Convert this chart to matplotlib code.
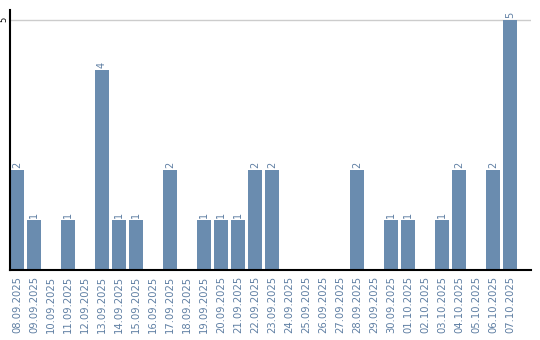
import matplotlib
matplotlib.use("Agg")
import matplotlib.pyplot as plt

dates = ["08.09.2025", "09.09.2025", "10.09.2025", "11.09.2025", "12.09.2025",
         "13.09.2025", "14.09.2025", "15.09.2025", "16.09.2025", "17.09.2025",
         "18.09.2025", "19.09.2025", "20.09.2025", "21.09.2025", "22.09.2025",
         "23.09.2025", "24.09.2025", "25.09.2025", "26.09.2025", "27.09.2025",
         "28.09.2025", "29.09.2025", "30.09.2025", "01.10.2025", "02.10.2025",
         "03.10.2025", "04.10.2025", "05.10.2025", "06.10.2025", "07.10.2025"]
counts = [2, 1, 0, 1, 0, 4, 1, 1, 0, 2, 0, 1, 1, 1, 2, 2, 0, 0, 0, 0,
          2, 0, 1, 1, 0, 1, 2, 0, 2, 5]

bar_col = "#6a8caf"
txt_col = "#5f7fa3"

fig = plt.figure(figsize=(5.4, 3.4), dpi=100)
ax = fig.add_axes([0.0185, 0.206, 0.965, 0.765])

x = list(range(len(dates)))
ax.bar(x, counts, width=0.82, color=bar_col, zorder=2)
for i, v in zip(x, counts):
    if v > 0:
        ax.text(i, v + 0.04, str(v), rotation=90, ha="center", va="bottom",
                fontsize=7, color=txt_col)

ax.set_xlim(-0.41, 30.24)
ax.set_ylim(0, 5.2)
ax.set_yticks([5])
ax.set_yticklabels(["5"], rotation=90, va="center", fontsize=6)
ax.yaxis.grid(True, color="#cccccc", linewidth=1, zorder=0)
ax.tick_params(axis="y", length=0, pad=1.5)
ax.set_xticks(x)
ax.set_xticklabels(dates, rotation=90, fontsize=7.2, color=txt_col)
ax.tick_params(axis="x", length=0, pad=4)

for s in ["top", "right"]:
    ax.spines[s].set_visible(False)
ax.spines["left"].set_linewidth(1.5)
ax.spines["bottom"].set_linewidth(1.5)

fig.savefig("out.png", dpi=100)
